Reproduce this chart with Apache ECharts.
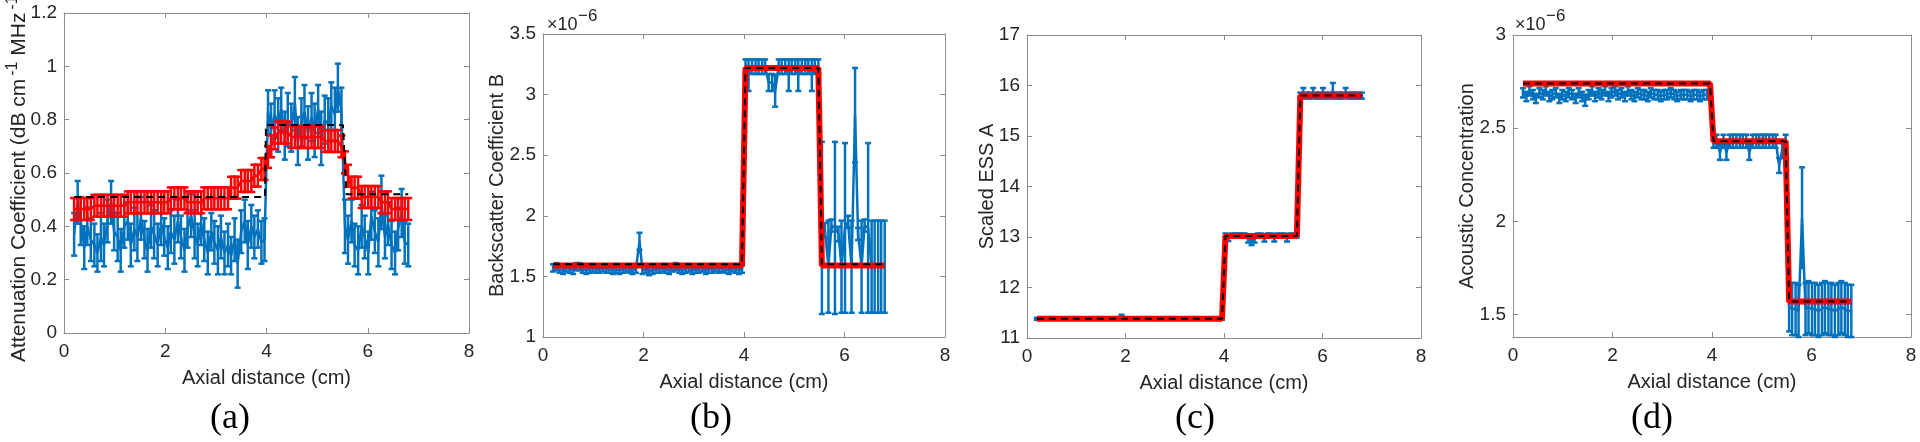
<!DOCTYPE html>
<html><head><meta charset="utf-8">
<script src="https://cdn.jsdelivr.net/npm/echarts@6/dist/echarts.min.js"></script>
<style>html,body{margin:0;padding:0;background:#fff}#c{width:1920px;height:442px}</style>
</head><body><div id="c"></div><script>
// ---------- DATA ----------
const axialDistance = [0.20,0.27,0.33,0.40,0.46,0.53,0.60,0.66,0.73,0.79,
 0.86,0.93,0.99,1.06,1.12,1.19,1.26,1.32,1.39,1.45,
 1.52,1.59,1.65,1.72,1.78,1.85,1.92,1.98,2.05,2.11,
 2.18,2.25,2.31,2.38,2.44,2.51,2.58,2.64,2.71,2.77,
 2.84,2.91,2.97,3.04,3.10,3.17,3.24,3.30,3.37,3.43,
 3.50,3.57,3.63,3.70,3.76,3.83,3.90,3.96,4.03,4.09,
 4.16,4.23,4.29,4.36,4.42,4.49,4.56,4.62,4.69,4.75,
 4.82,4.89,4.95,5.02,5.08,5.15,5.22,5.28,5.35,5.41,
 5.48,5.55,5.61,5.68,5.74,5.81,5.88,5.94,6.01,6.07,
 6.14,6.21,6.27,6.34,6.40,6.47,6.54,6.60,6.67,6.73,
 6.80];

// (a) attenuation coefficient
const attenMeasured = [0.37,0.49,0.42,0.32,0.40,0.35,0.33,0.30,0.36,0.33,
 0.42,0.49,0.38,0.36,0.31,0.40,0.42,0.33,0.39,0.36,
 0.43,0.35,0.31,0.40,0.37,0.33,0.41,0.36,0.32,0.38,
 0.35,0.42,0.36,0.31,0.39,0.44,0.37,0.33,0.41,0.35,
 0.30,0.38,0.34,0.31,0.36,0.30,0.33,0.29,0.35,0.26,
 0.38,0.42,0.33,0.40,0.36,0.39,0.34,0.35,0.83,0.76,
 0.82,0.78,0.84,0.74,0.80,0.77,0.86,0.72,0.79,0.83,
 0.75,0.81,0.76,0.84,0.73,0.80,0.78,0.85,0.82,0.92,
 0.83,0.40,0.35,0.42,0.33,0.31,0.40,0.36,0.30,0.44,
 0.38,0.34,0.49,0.36,0.41,0.33,0.30,0.39,0.45,0.34,
 0.33];
const attenMeasuredErr = [0.08,0.08,0.09,0.08,0.07,0.08,0.08,0.07,0.09,0.08,
 0.08,0.08,0.07,0.09,0.08,0.08,0.07,0.08,0.08,0.09,
 0.08,0.07,0.08,0.08,0.09,0.08,0.08,0.07,0.08,0.08,
 0.09,0.08,0.08,0.08,0.07,0.08,0.09,0.08,0.08,0.08,
 0.08,0.07,0.08,0.09,0.08,0.08,0.08,0.07,0.08,0.09,
 0.08,0.08,0.09,0.08,0.08,0.07,0.08,0.08,0.08,0.10,
 0.09,0.10,0.08,0.09,0.10,0.09,0.10,0.09,0.09,0.10,
 0.10,0.09,0.10,0.09,0.10,0.09,0.10,0.09,0.10,0.09,
 0.09,0.10,0.09,0.08,0.08,0.09,0.08,0.08,0.08,0.09,
 0.08,0.09,0.10,0.08,0.08,0.09,0.08,0.08,0.09,0.08,
 0.08];
const attenEstimated = [0.465,0.465,0.465,0.465,0.465,0.465,0.477,0.477,0.477,0.477,
 0.477,0.477,0.477,0.477,0.477,0.477,0.49,0.49,0.49,0.49,
 0.49,0.49,0.49,0.49,0.49,0.49,0.49,0.49,0.49,0.505,
 0.505,0.505,0.505,0.505,0.49,0.49,0.49,0.49,0.49,0.505,
 0.505,0.505,0.505,0.505,0.505,0.505,0.505,0.545,0.545,0.545,
 0.57,0.57,0.57,0.57,0.59,0.59,0.615,0.615,0.66,0.70,
 0.73,0.752,0.752,0.752,0.752,0.735,0.735,0.735,0.735,0.735,
 0.735,0.735,0.735,0.735,0.735,0.72,0.72,0.72,0.72,0.72,
 0.70,0.64,0.59,0.545,0.545,0.545,0.51,0.51,0.51,0.51,
 0.51,0.51,0.49,0.49,0.49,0.465,0.465,0.465,0.465,0.465,
 0.465];
const attenEstimatedErr = 0.041;
const attenTruthX = [0.2, 3.97, 3.99, 5.51, 5.58, 6.8];
const attenTruthY = [0.51, 0.51, 0.78, 0.78, 0.52, 0.52];

// (b) backscatter coefficient B (x1e-6)
const backMeasured = [1.57,1.58,1.56,1.55,1.57,1.56,1.55,1.58,1.58,1.56,
 1.55,1.56,1.57,1.56,1.56,1.57,1.56,1.56,1.55,1.56,
 1.55,1.56,1.57,1.56,1.55,1.56,1.79,1.55,1.56,1.54,
 1.55,1.56,1.56,1.57,1.56,1.55,1.57,1.58,1.56,1.55,
 1.56,1.57,1.55,1.56,1.56,1.57,1.55,1.56,1.56,1.57,
 1.56,1.57,1.56,1.55,1.57,1.56,1.55,1.56,3.23,3.16,
 3.23,3.23,3.23,3.23,3.23,3.10,3.10,3.03,3.23,3.23,
 3.23,3.16,3.23,3.23,3.16,3.23,3.23,3.23,3.16,3.23,
 3.23,1.90,1.88,1.58,1.92,1.90,1.85,1.58,1.90,1.95,
 1.58,2.83,1.85,1.58,1.92,1.90,1.58,1.58,1.58,1.58,
 1.58];
const backMeasuredErr = [0.03,0.03,0.03,0.03,0.03,0.03,0.03,0.03,0.03,0.03,
 0.03,0.03,0.03,0.03,0.03,0.03,0.03,0.03,0.03,0.03,
 0.03,0.03,0.03,0.03,0.03,0.03,0.07,0.03,0.03,0.03,
 0.03,0.03,0.03,0.03,0.03,0.03,0.03,0.03,0.03,0.03,
 0.03,0.03,0.03,0.03,0.03,0.03,0.03,0.03,0.03,0.03,
 0.03,0.03,0.03,0.03,0.03,0.03,0.03,0.03,0.06,0.13,
 0.06,0.06,0.06,0.06,0.06,0.07,0.07,0.13,0.06,0.06,
 0.06,0.13,0.06,0.06,0.13,0.06,0.06,0.06,0.13,0.06,
 0.06,0.71,0.06,0.38,0.05,0.71,0.06,0.38,0.70,0.05,
 0.38,0.39,0.05,0.38,0.05,0.70,0.38,0.38,0.38,0.38,
 0.38];
const stepX = [0.2, 3.96, 4.03, 5.48, 5.55, 6.8];
const backEstimatedY = [1.59, 1.59, 3.22, 3.22, 1.59, 1.59];
const backTruthY = [1.60, 1.60, 3.22, 3.22, 1.60, 1.60];

// (c) scaled ESS A
const essMeasured = [11.38,11.38,11.38,11.38,11.38,11.38,11.38,11.38,11.38,11.38,
 11.38,11.38,11.38,11.38,11.38,11.38,11.38,11.38,11.38,11.38,
 11.38,11.38,11.38,11.38,11.38,11.38,11.44,11.38,11.38,11.38,
 11.38,11.38,11.38,11.38,11.38,11.38,11.38,11.38,11.38,11.38,
 11.38,11.38,11.38,11.38,11.38,11.38,11.38,11.38,11.38,11.38,
 11.38,11.38,11.38,11.38,11.38,11.38,11.38,11.38,13.03,12.98,
 13.03,13.03,13.03,13.03,13.03,12.96,12.92,12.96,13.03,13.03,
 12.97,13.03,13.03,12.97,13.03,13.03,13.03,12.97,13.03,13.03,
 13.03,15.80,15.85,15.80,15.80,15.85,15.80,15.80,15.85,15.80,
 15.80,15.90,15.80,15.80,15.80,15.85,15.80,15.80,15.80,15.80,
 15.80];
const essMeasuredErr = [0.02,0.02,0.02,0.02,0.02,0.02,0.02,0.02,0.02,0.02,
 0.02,0.02,0.02,0.02,0.02,0.02,0.02,0.02,0.02,0.02,
 0.02,0.02,0.02,0.02,0.02,0.02,0.02,0.02,0.02,0.02,
 0.02,0.02,0.02,0.02,0.02,0.02,0.02,0.02,0.02,0.02,
 0.02,0.02,0.02,0.02,0.02,0.02,0.02,0.02,0.02,0.02,
 0.02,0.02,0.02,0.02,0.02,0.02,0.02,0.02,0.04,0.06,
 0.04,0.04,0.04,0.04,0.04,0.07,0.08,0.07,0.04,0.04,
 0.06,0.04,0.04,0.06,0.04,0.04,0.04,0.06,0.04,0.04,
 0.04,0.06,0.10,0.06,0.06,0.10,0.06,0.06,0.10,0.06,
 0.06,0.15,0.06,0.06,0.06,0.10,0.06,0.06,0.06,0.06,
 0.06];
const essEstimatedY = [11.38, 11.38, 13.02, 13.02, 15.80, 15.80];
const essTruthY = [11.38, 11.38, 13.02, 13.02, 15.80, 15.80];

// (d) acoustic concentration (x1e-6)
const concMeasured = [2.69,2.67,2.70,2.68,2.66,2.69,2.68,2.70,2.67,2.68,
 2.69,2.66,2.68,2.67,2.69,2.68,2.66,2.69,2.67,2.65,
 2.68,2.70,2.67,2.69,2.68,2.70,2.67,2.69,2.70,2.68,
 2.69,2.67,2.70,2.68,2.67,2.69,2.68,2.68,2.67,2.69,
 2.68,2.68,2.67,2.68,2.68,2.69,2.68,2.67,2.68,2.68,
 2.68,2.67,2.68,2.68,2.67,2.68,2.68,2.68,2.43,2.43,
 2.37,2.43,2.37,2.43,2.43,2.43,2.43,2.43,2.43,2.37,
 2.43,2.43,2.43,2.43,2.43,2.43,2.43,2.43,2.30,2.38,
 2.43,1.54,1.53,1.53,1.52,2.02,1.53,1.54,1.53,1.53,
 1.52,1.53,1.54,1.53,1.53,1.52,1.53,1.54,1.53,1.52,
 1.52];
const concMeasuredErr = [0.025,0.025,0.025,0.025,0.025,0.025,0.025,0.025,0.025,0.025,
 0.025,0.025,0.025,0.025,0.025,0.025,0.025,0.025,0.025,0.03,
 0.025,0.025,0.025,0.025,0.025,0.025,0.025,0.025,0.025,0.025,
 0.025,0.025,0.025,0.025,0.025,0.025,0.025,0.025,0.025,0.025,
 0.025,0.025,0.025,0.025,0.025,0.025,0.025,0.025,0.025,0.025,
 0.025,0.025,0.025,0.025,0.025,0.025,0.025,0.025,0.035,0.035,
 0.04,0.035,0.04,0.035,0.035,0.035,0.035,0.035,0.035,0.04,
 0.035,0.035,0.035,0.035,0.035,0.035,0.035,0.035,0.04,0.04,
 0.035,0.13,0.14,0.14,0.14,0.27,0.14,0.14,0.14,0.14,
 0.14,0.14,0.14,0.14,0.14,0.14,0.14,0.14,0.14,0.14,
 0.14];
const concEstimatedY = [2.74, 2.74, 2.43, 2.43, 1.57, 1.57];
const concTruthY = [2.74, 2.74, 2.43, 2.43, 1.57, 1.57];

const panelLabels = ['(a)', '(b)', '(c)', '(d)'];
const yTitles = ['Backscatter Coefficient B', 'Scaled ESS A', 'Acoustic Concentration'];
const xTitle = 'Axial distance (cm)';

// ---------- CHART ----------
const FONT = '"Liberation Sans", Arial, "DejaVu Sans", sans-serif';
const SERIF = '"Liberation Serif", "Times New Roman", serif';
const BLUE = '#0072BD', RED = '#FF0000', AXIS = '#8c8c8c', TXT = '#262626';

const grids = [
  {left: 64, top: 13, width: 405, height: 320},
  {left: 543, top: 34, width: 402, height: 303},
  {left: 1027, top: 35, width: 394, height: 303},
  {left: 1513, top: 35, width: 398, height: 302}
];
const yCfg = [
  {min: 0, max: 1.2, interval: 0.2},
  {min: 1, max: 3.5, interval: 0.5},
  {min: 11, max: 17, interval: 1},
  {min: 1.38, max: 3, custom: [1.5, 2, 2.5, 3]}
];

function bars(means, errs) {
  return axialDistance.map((x, i) => {
    const e = typeof errs === 'number' ? errs : errs[i];
    return [x, means[i] - e, means[i] + e];
  });
}
function pts(means) { return axialDistance.map((x, i) => [x, means[i]]); }
function steps(xs, ys) { return xs.map((x, i) => [x, ys[i]]); }

function errRender(capHalf, lw) {
  return function (params, api) {
    const x = api.value(0), lo = api.value(1), hi = api.value(2);
    const a = api.coord([x, lo]), b = api.coord([x, hi]);
    const st = {stroke: api.visual('color'), lineWidth: lw};
    return {type: 'group', children: [
      {type: 'line', shape: {x1: a[0], y1: a[1], x2: b[0], y2: b[1]}, style: st},
      {type: 'line', shape: {x1: a[0] - capHalf, y1: a[1], x2: a[0] + capHalf, y2: a[1]}, style: st},
      {type: 'line', shape: {x1: b[0] - capHalf, y1: b[1], x2: b[0] + capHalf, y2: b[1]}, style: st}
    ]};
  };
}

const xAxis = [], yAxis = [], series = [], graphic = [];
const axLine = {show: true, onZero: false, lineStyle: {color: AXIS, width: 1}};
const axTick = {show: true, inside: true, length: 5, lineStyle: {color: AXIS, width: 1}};

grids.forEach((g, i) => {
  xAxis.push({type: 'value', gridIndex: i, position: 'bottom', min: 0, max: 8, interval: 2,
    axisLine: axLine, axisTick: axTick, splitLine: {show: false},
    axisLabel: {color: TXT, fontSize: 19, fontFamily: FONT, margin: 9}});
  xAxis.push({type: 'value', gridIndex: i, position: 'top', min: 0, max: 8, interval: 2,
    axisLine: axLine, axisTick: axTick, splitLine: {show: false}, axisLabel: {show: false}});
  const yc = yCfg[i];
  const yl = {type: 'value', gridIndex: i, position: 'left', min: yc.min, max: yc.max,
    axisLine: axLine, axisTick: Object.assign({}, axTick), splitLine: {show: false},
    axisLabel: {color: TXT, fontSize: 19, fontFamily: FONT, margin: 7}};
  const yr = {type: 'value', gridIndex: i, position: 'right', min: yc.min, max: yc.max,
    axisLine: axLine, axisTick: Object.assign({}, axTick), splitLine: {show: false}, axisLabel: {show: false}};
  if (yc.custom) {
    yl.axisLabel.customValues = yc.custom; yl.axisTick.customValues = yc.custom;
    yr.axisTick.customValues = yc.custom;
  } else { yl.interval = yc.interval; yr.interval = yc.interval; }
  yAxis.push(yl, yr);

  graphic.push({type: 'text', x: g.left + g.width / 2, y: g.top + g.height + 45,
    style: {text: xTitle, font: '20px ' + FONT, fill: TXT, align: 'center', verticalAlign: 'middle'}});
  if (i > 0) {
    graphic.push({type: 'text', x: [0, 497, 987, 1467][i], y: g.top + g.height / 2, rotation: Math.PI / 2,
      style: {text: yTitles[i - 1], font: '20px ' + FONT, fill: TXT, align: 'center', verticalAlign: 'middle'}});
  }
  graphic.push({type: 'text', x: [230, 711, 1195, 1652][i], y: 419,
    style: {text: panelLabels[i], font: '36px ' + SERIF, fill: '#000', align: 'center', verticalAlign: 'middle'}});
});

// (a) y title with superscripts, starting at its bottom end (runs off the top like the original)
graphic.push({type: 'text', x: 17.5, y: 362, rotation: Math.PI / 2,
  style: {text: '{m|Attenuation Coefficient (dB cm}{s|-1}{m| MHz}{s|-1}{m|)}',
    align: 'left', verticalAlign: 'middle',
    rich: {m: {fontSize: 21, fontFamily: FONT, fill: TXT, lineHeight: 25, verticalAlign: 'bottom'},
           s: {fontSize: 16, fontFamily: FONT, fill: TXT, lineHeight: 25, verticalAlign: 'top', padding: [0, 0, 0, 3]}}}});

// exponent labels
[547, 1515].forEach(x0 => {
  graphic.push({type: 'text', x: x0, y: 25, style: {text: '\u00D710', font: '18px ' + FONT, fill: TXT, align: 'left', verticalAlign: 'middle'}});
  graphic.push({type: 'text', x: x0 + 31, y: 16, style: {text: '\u22126', font: '17px ' + FONT, fill: TXT, align: 'left', verticalAlign: 'middle'}});
});

function addPanel(i, meas, measErr, est, estErr, estLine, truthLine, redWidth) {
  const ax = {xAxisIndex: 2 * i, yAxisIndex: 2 * i};
  series.push(Object.assign({type: 'custom', renderItem: errRender(3, 2.5), data: bars(meas, measErr),
    encode: {x: 0, y: [1, 2]}, itemStyle: {color: BLUE}, z: 2, silent: true}, ax));
  series.push(Object.assign({type: 'line', data: pts(meas), showSymbol: false, lineStyle: {color: BLUE, width: 2.5},
    z: 3, silent: true}, ax));
  if (est) {
    series.push(Object.assign({type: 'custom', renderItem: errRender(4, 2.5), data: bars(est, estErr),
      encode: {x: 0, y: [1, 2]}, itemStyle: {color: RED}, z: 4, silent: true}, ax));
    series.push(Object.assign({type: 'line', data: pts(est), showSymbol: false, lineStyle: {color: RED, width: 2.5},
      z: 5, silent: true}, ax));
  }
  if (estLine) {
    series.push(Object.assign({type: 'line', data: estLine, showSymbol: false, lineStyle: {color: RED, width: redWidth},
      z: 5, silent: true}, ax));
  }
  series.push(Object.assign({type: 'line', data: truthLine, showSymbol: false,
    lineStyle: {color: '#000', width: 2, type: [7, 5]}, z: 6, silent: true}, ax));
}

addPanel(0, attenMeasured, attenMeasuredErr, attenEstimated, attenEstimatedErr, null, steps(attenTruthX, attenTruthY), 0);
addPanel(1, backMeasured, backMeasuredErr, null, 0, steps(stepX, backEstimatedY), steps(stepX, backTruthY), 6);
addPanel(2, essMeasured, essMeasuredErr, null, 0, steps(stepX, essEstimatedY), steps(stepX, essTruthY), 6);
addPanel(3, concMeasured, concMeasuredErr, null, 0, steps(stepX, concEstimatedY), steps(stepX, concTruthY), 6);

const chart = echarts.init(document.getElementById('c'), null, {renderer: 'canvas'});
chart.setOption({animation: false, backgroundColor: '#fff', grid: grids, xAxis, yAxis, series, graphic});
</script></body></html>
